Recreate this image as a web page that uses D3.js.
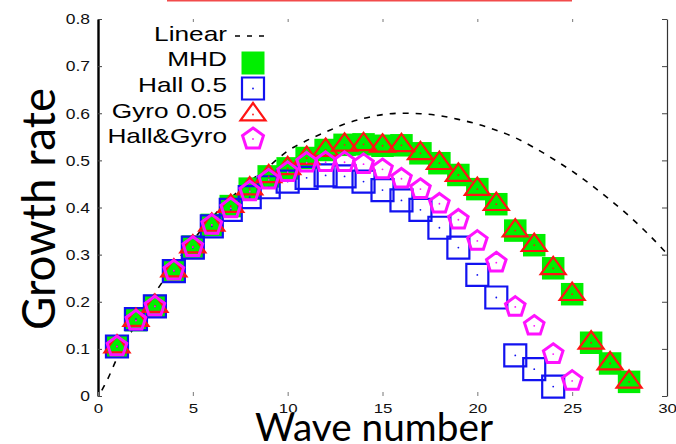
<!DOCTYPE html>
<html>
<head>
<meta charset="utf-8">
<script src="https://cdn.jsdelivr.net/npm/d3@7"></script>
<style>
  body { margin: 0; background: #fff; }
  svg { display: block; }
</style>
</head>
<body>
<svg id="chart" width="676" height="444"></svg>
<script>
// ---- data ----
const waveNumbers = d3.range(1, 29);            // k = 1 .. 28
const mhd      = [0.105, 0.161, 0.191, 0.266, 0.317, 0.363, 0.403, 0.440, 0.466, 0.483, 0.505, 0.522, 0.533, 0.534,
                  0.531, 0.532, 0.515, 0.494, 0.469, 0.439, 0.407, 0.351, 0.320, 0.271, 0.216, 0.113, 0.069, 0.030];
const gyro     = [0.105, 0.161, 0.191, 0.266, 0.317, 0.363, 0.403, 0.440, 0.466, 0.483, 0.505, 0.522, 0.533, 0.534,
                  0.531, 0.532, 0.515, 0.494, 0.469, 0.439, 0.407, 0.351, 0.320, 0.271, 0.216, 0.113, 0.069, 0.030];
const hall     = [0.105, 0.163, 0.190, 0.265, 0.315, 0.360, 0.395, 0.422, 0.443, 0.455, 0.463, 0.468, 0.466, 0.455,
                  0.437, 0.415, 0.395, 0.357, 0.315, 0.257, 0.209, 0.086, 0.057, 0.020];
const hallGyro = [0.105, 0.160, 0.190, 0.266, 0.316, 0.363, 0.398, 0.434, 0.459, 0.475, 0.495, 0.496, 0.496, 0.492,
                  0.481, 0.461, 0.439, 0.408, 0.374, 0.329, 0.283, 0.189, 0.149, 0.089, 0.032];
const linearK    = [0.2, 0.5, 1, 1.5, 2, 3, 4, 5, 6, 7, 8, 9, 10, 11, 12, 13, 14, 15, 16, 17, 18, 19, 20,
                    21, 22, 23, 24, 25, 26, 27, 28, 29, 30];
const linearRate = [0.012, 0.035, 0.080, 0.118, 0.153, 0.218, 0.277, 0.330, 0.378, 0.420, 0.455, 0.487, 0.520,
                    0.542, 0.560, 0.577, 0.589, 0.597, 0.600, 0.599, 0.595, 0.587, 0.577, 0.564, 0.548, 0.527,
                    0.503, 0.477, 0.448, 0.416, 0.382, 0.344, 0.302];
const xTicks = [0, 5, 10, 15, 20, 25, 30];
const yTicks = [0, 0.1, 0.2, 0.3, 0.4, 0.5, 0.6, 0.7, 0.8];
const yTickLabels = ["0", "0.1", "0.2", "0.3", "0.4", "0.5", "0.6", "0.7", "0.8"];
const legendNames = ["Linear", "MHD", "Hall 0.5", "Gyro 0.05", "Hall&Gyro"];

// ---- layout ----
const svg = d3.select("#chart");
const x = d3.scaleLinear().domain([0, 30]).range([98, 667]);
const y = d3.scaleLinear().domain([0, 0.8]).range([396, 19]);
const tickFont = "'Liberation Sans', Arial, sans-serif";
const stretch = 1.25;

const colors = { mhd: "#00ef00", hall: "#1212f0", gyro: "#ff1414", hallGyro: "#ff12ff" };

// red rule across the top
svg.append("line").attr("x1", 167).attr("x2", 572).attr("y1", 0.5).attr("y2", 0.5)
  .attr("stroke", "#f24b4b").attr("stroke-width", 2);

// ---- axes ----
const gLeft = svg.append("g").attr("transform", "translate(98,0)")
  .call(d3.axisLeft(y).tickValues(yTicks).tickSizeInner(-4).tickSizeOuter(0).tickPadding(0)
    .tickFormat((d, i) => yTickLabels[i]));
gLeft.select(".domain").attr("stroke", "#000").attr("stroke-width", 2.4);
gLeft.selectAll(".tick line").attr("stroke", "#444");
gLeft.selectAll(".tick text").attr("x", 0).attr("dy", "0.34em")
  .attr("transform", `translate(-8,0) scale(${stretch},1)`)
  .attr("font-family", tickFont).attr("font-size", 14).attr("fill", "#111");

const gBottom = svg.append("g").attr("transform", "translate(0,396)")
  .call(d3.axisBottom(x).tickValues(xTicks).tickSizeInner(-4).tickSizeOuter(0).tickFormat(d3.format("d")));
gBottom.select(".domain").remove();
gBottom.selectAll(".tick line").attr("stroke", "#777");
gBottom.selectAll(".tick text").attr("y", 0).attr("dy", 0)
  .attr("transform", `translate(0,16.5) scale(${stretch},1)`)
  .attr("font-family", tickFont).attr("font-size", 13.5).attr("fill", "#111");

const gTop = svg.append("g").attr("transform", "translate(0,19)")
  .call(d3.axisTop(x).tickValues(xTicks.slice(1, -1)).tickSizeInner(-3).tickSizeOuter(0).tickFormat(""));
gTop.select(".domain").remove();
gTop.selectAll(".tick line").attr("stroke", "#777");

const gRight = svg.append("g").attr("transform", "translate(667,0)")
  .call(d3.axisRight(y).tickValues(yTicks).tickSizeInner(-5).tickSizeOuter(0).tickFormat(""));
gRight.select(".domain").attr("stroke", "#333").attr("stroke-width", 1.2);
gRight.selectAll(".tick line").attr("stroke", "#444");

// ---- marker shapes ----
function squarePath(s) { const h = s / 2; return `M${-h},${-h}H${h}V${h}H${-h}Z`; }
function trianglePath() { return "M0,-11.5L12.5,5.8L-12.5,5.8Z"; }
function pentagonPath(r) {
  const pts = d3.range(5).map(i => {
    const a = -Math.PI / 2 + i * 2 * Math.PI / 5;
    return [r * Math.cos(a), r * Math.sin(a)];
  });
  return "M" + pts.map(p => p.join(",")).join("L") + "Z";
}

// ---- linear growth curve ----
const lineGen = d3.line().x(d => x(d[0])).y(d => y(d[1])).curve(d3.curveMonotoneX);
svg.append("path").datum(d3.zip(linearK, linearRate)).attr("d", lineGen)
  .attr("fill", "none").attr("stroke", "#000").attr("stroke-width", 1.6).attr("stroke-dasharray", "6,7");

function drawSeries(values, cls, pathStr, style, dotColor) {
  const g = svg.append("g").attr("class", cls);
  const pts = g.selectAll("g").data(values.map((v, i) => [waveNumbers[i], v])).join("g")
    .attr("transform", d => `translate(${x(d[0])},${y(d[1])})`);
  const p = pts.append("path").attr("d", pathStr);
  Object.entries(style).forEach(([k, v]) => p.attr(k, v));
  if (dotColor) pts.append("circle").attr("r", 0.9).attr("fill", dotColor);
}

drawSeries(mhd, "mhd", squarePath(22.5), { fill: colors.mhd }, null);
drawSeries(hall, "hall", squarePath(22), { fill: "none", stroke: colors.hall, "stroke-width": 2.2 }, colors.hall);
drawSeries(gyro, "gyro", trianglePath(), { fill: "none", stroke: colors.gyro, "stroke-width": 2.2 }, colors.gyro);
drawSeries(hallGyro, "hallGyro", pentagonPath(10.3), { fill: "none", stroke: colors.hallGyro, "stroke-width": 3 }, colors.hallGyro);

// ---- legend ----
const legendBase = [40.5, 66, 91.7, 117.5, 143];
const legend = svg.append("g");
legendNames.forEach((name, i) => {
  legend.append("text").text(name)
    .attr("transform", `translate(227,${legendBase[i]}) scale(${stretch},1)`)
    .attr("text-anchor", "end").attr("font-family", tickFont).attr("font-size", 21).attr("fill", "#000");
});
const lx = 253;
legend.append("line").attr("x1", 235).attr("x2", 268).attr("y1", 36).attr("y2", 36)
  .attr("stroke", "#000").attr("stroke-width", 1.6).attr("stroke-dasharray", "5,7");
legend.append("path").attr("d", squarePath(23)).attr("transform", `translate(${lx},63)`).attr("fill", colors.mhd);
legend.append("path").attr("d", squarePath(22)).attr("transform", `translate(${lx},88.5)`)
  .attr("fill", "none").attr("stroke", colors.hall).attr("stroke-width", 2.2);
legend.append("circle").attr("cx", lx).attr("cy", 88.5).attr("r", 0.9).attr("fill", colors.hall);
legend.append("path").attr("d", trianglePath()).attr("transform", `translate(${lx},114.5)`)
  .attr("fill", "none").attr("stroke", colors.gyro).attr("stroke-width", 2.2);
legend.append("circle").attr("cx", lx).attr("cy", 114.5).attr("r", 0.9).attr("fill", colors.gyro);
legend.append("path").attr("d", pentagonPath(11)).attr("transform", `translate(${lx},139)`)
  .attr("fill", "none").attr("stroke", colors.hallGyro).attr("stroke-width", 3);
legend.append("circle").attr("cx", lx).attr("cy", 139).attr("r", 0.9).attr("fill", colors.hallGyro);

// ---- axis titles ----
const titleFont = "Lato, 'Open Sans', sans-serif";
function fitText(sel, width) {
  const w = sel.node().getComputedTextLength();
  sel.attr("font-size", 40 * width / w);
}
const xTitle = svg.append("text").text("Wave number")
  .attr("x", 374).attr("y", 441).attr("text-anchor", "middle")
  .attr("font-family", titleFont).attr("font-size", 40).attr("fill", "#000");
fitText(xTitle, 238);
const yTitle = svg.append("text").text("Growth rate")
  .attr("transform", "translate(55,209) rotate(-90)").attr("text-anchor", "middle")
  .attr("font-family", titleFont).attr("font-size", 40).attr("fill", "#000");
fitText(yTitle, 242);
</script>
</body>
</html>
